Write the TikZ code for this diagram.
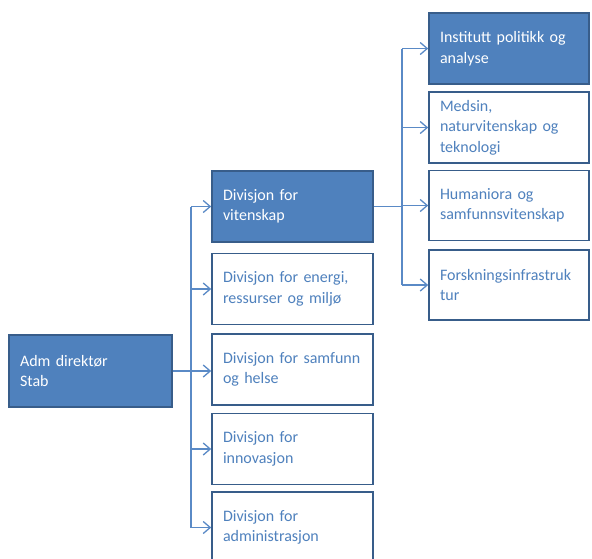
\documentclass[tikz,border=0pt]{standalone}
\usepackage{fontspec}
\setmainfont{Carlito}
\usetikzlibrary{arrows.meta}
\definecolor{boxfill}{HTML}{4F81BD}
\definecolor{boxline}{HTML}{385D8A}
\definecolor{conncol}{HTML}{5A8AC6}
\definecolor{txtblue}{HTML}{4F81BD}
\tikzset{
  orgbox/.style={draw=boxline, line width=1.6pt, rectangle, inner xsep=11pt, inner ysep=0pt,
    align=left, font=\fontsize{16}{20.5}\selectfont, anchor=center},
  filledbox/.style={orgbox, fill=boxfill, text=white},
  plainbox/.style={orgbox, fill=white, text=txtblue},
  midw/.style={text width=139pt, minimum height=71pt},
  rightw/.style={text width=138pt, minimum height=71pt},
  conn/.style={draw=conncol, line width=1.3pt},
  arr/.style={conn, -{Straight Barb[length=7pt,width=12pt,line width=1.3pt]}}
}
\begin{document}
\begin{tikzpicture}[x=1pt,y=-1pt]
\useasboundingbox (0,0) rectangle (592,558);
\clip (0,0) rectangle (592,558);
% left
\node[filledbox, text width=141pt, minimum height=72pt] (adm) at (90.5,371) {Adm direktør\\Stab};
% middle column
\node[filledbox, midw] (vit) at (292.5,206.5) {Divisjon for\\vitenskap};
\node[plainbox, midw] (ene) at (292.5,289) {Divisjon for energi,\\ressurser og miljø};
\node[plainbox, midw] (sam) at (292.5,369.5) {Divisjon for samfunn\\og helse};
\node[plainbox, midw] (inn) at (292.5,449) {Divisjon for\\innovasjon};
\node[plainbox, midw] (adm2) at (292.5,527.5) {Divisjon for\\administrasjon};
% right column
\node[filledbox, rightw] (ins) at (509,48.5) {Institutt politikk og\\analyse};
\node[plainbox, rightw] (med) at (509,127.5) {Medsin,\\naturvitenskap og\\teknologi};
\node[plainbox, rightw, minimum height=70pt] (hum) at (509,205.5) {Humaniora og\\samfunnsvitenskap};
\node[plainbox, rightw, minimum height=70pt] (for) at (509,285) {Forskningsinfrastruk\\tur};
% spines
\coordinate (s1) at (191,0);
\coordinate (s2) at (402,0);
\draw[conn] (adm.east) -- (adm.east -| s1);
\draw[conn] (vit.west -| s1) -- (adm2.west -| s1);
\foreach \n in {vit,ene,inn,adm2}{
  \draw[arr] (\n.west -| s1) -- (\n.west);
}
\draw[arr] (adm.east -| s1) -- (adm.east -| sam.west);
\draw[conn] (vit.east) -- (vit.east -| s2);
\draw[conn] (ins.west -| s2) -- (for.west -| s2);
\foreach \n in {ins,med,hum,for}{
  \draw[arr] (\n.west -| s2) -- (\n.west);
}
\end{tikzpicture}
\end{document}
